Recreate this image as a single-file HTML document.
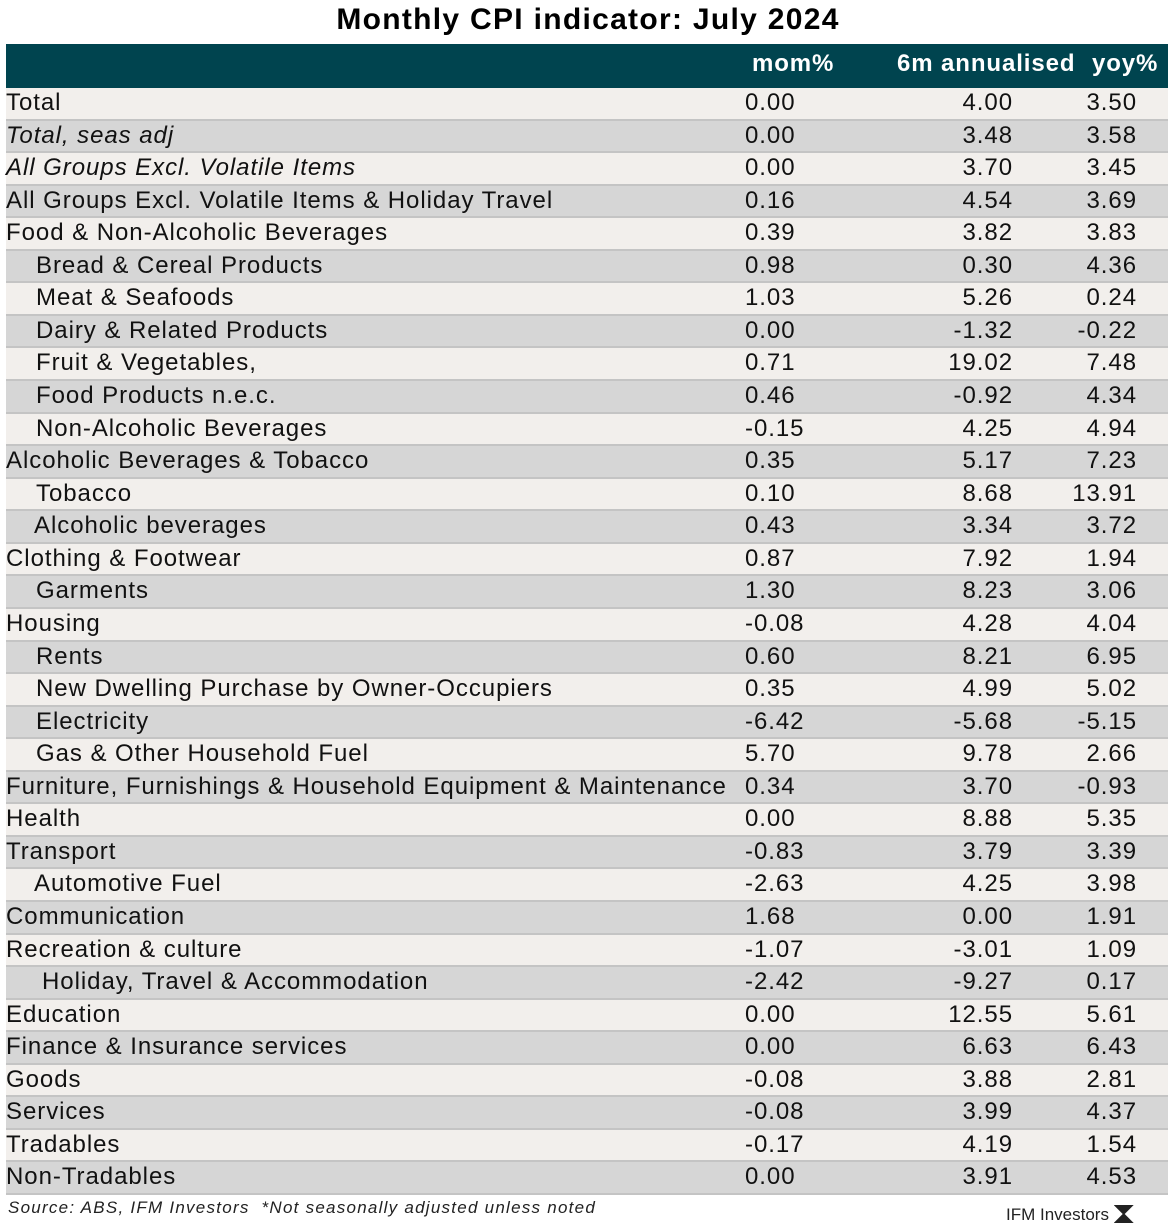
<!DOCTYPE html>
<html><head><meta charset="utf-8"><style>
body{margin:0;width:1172px;height:1229px;background:#fff;font-family:"Liberation Sans",sans-serif;position:relative;overflow:hidden}
#title{position:absolute;top:3px;left:0;width:1176px;text-align:center;font-weight:bold;font-size:30px;letter-spacing:1.3px;color:#000}
#hdr{position:absolute;left:6px;top:44px;width:1162px;height:44px;background:#00444f}
.h{position:absolute;top:50px;color:#fff;font-weight:bold;font-size:24px;letter-spacing:0.9px}
.row{position:absolute;left:6px;width:1162px;border-bottom:2px solid #c4c4c4;box-sizing:border-box}
.c{position:absolute;font-size:24px;color:#111;white-space:nowrap;line-height:30px;letter-spacing:0.95px}
#src{position:absolute;left:8px;top:1198px;font-size:17px;font-style:italic;color:#222;letter-spacing:1.25px}
#logo{position:absolute;left:1006px;top:1205px;font-size:17px;color:#222}
</style></head><body>
<div id="title">Monthly CPI indicator: July 2024</div>
<div id="hdr"></div>
<div class="h" style="left:752px">mom%</div>
<div class="h" style="left:897px">6m annualised</div>
<div class="h" style="left:1092px">yoy%</div>
<div id="rows"></div>
<div id="src">Source: ABS, IFM Investors &nbsp;*Not seasonally adjusted unless noted</div>
<div id="logo">IFM Investors <span style="display:inline-block;width:20px;height:18px;background:#222;vertical-align:-3px;clip-path:polygon(0 0,100% 0,55% 50%,100% 100%,0 100%,45% 50%)"></span></div>
<script>
const labels=["Total","Total, seas adj","All Groups Excl. Volatile Items","All Groups Excl. Volatile Items & Holiday Travel","Food & Non-Alcoholic Beverages","Bread & Cereal Products","Meat & Seafoods","Dairy & Related Products","Fruit & Vegetables,","Food Products n.e.c.","Non-Alcoholic Beverages","Alcoholic Beverages & Tobacco","Tobacco","Alcoholic beverages","Clothing & Footwear","Garments","Housing","Rents","New Dwelling Purchase by Owner-Occupiers","Electricity","Gas & Other Household Fuel","Furniture, Furnishings & Household Equipment & Maintenance","Health","Transport","Automotive Fuel","Communication","Recreation & culture","Holiday, Travel & Accommodation","Education","Finance & Insurance services","Goods","Services","Tradables","Non-Tradables"];
const indent=[0,0,0,0,0,30,30,30,30,30,30,0,30,28,0,30,0,30,30,30,30,0,0,0,28,0,0,36,0,0,0,0,0,0];
const italic=[0,1,1,0,0,0,0,0,0,0,0,0,0,0,0,0,0,0,0,0,0,0,0,0,0,0,0,0,0,0,0,0,0,0];
const mom=["0.00","0.00","0.00","0.16","0.39","0.98","1.03","0.00","0.71","0.46","-0.15","0.35","0.10","0.43","0.87","1.30","-0.08","0.60","0.35","-6.42","5.70","0.34","0.00","-0.83","-2.63","1.68","-1.07","-2.42","0.00","0.00","-0.08","-0.08","-0.17","0.00"];
const ann=["4.00","3.48","3.70","4.54","3.82","0.30","5.26","-1.32","19.02","-0.92","4.25","5.17","8.68","3.34","7.92","8.23","4.28","8.21","4.99","-5.68","9.78","3.70","8.88","3.79","4.25","0.00","-3.01","-9.27","12.55","6.63","3.88","3.99","4.19","3.91"];
const yoy=["3.50","3.58","3.45","3.69","3.83","4.36","0.24","-0.22","7.48","4.34","4.94","7.23","13.91","3.72","1.94","3.06","4.04","6.95","5.02","-5.15","2.66","-0.93","5.35","3.39","3.98","1.91","1.09","0.17","5.61","6.43","2.81","4.37","1.54","4.53"];
const top0=88,rh=32.56,root=document.getElementById('rows');
labels.forEach((l,i)=>{
 const y=top0+i*rh;
 const r=document.createElement('div');r.className='row';
 
 
 r.style.top=y+'px';r.style.height=rh+'px';r.style.background=i%2?'#d6d6d6':'#f2efec';
 root.appendChild(r);
 const mk=(txt,css,name)=>{const d=document.createElement('div');d.className='c';d.textContent=txt;
  
  
  d.style.cssText+=css+';top:'+(y+0)+'px';root.appendChild(d);};
 mk(l,'left:'+(6+indent[i])+'px'+(italic[i]?';font-style:italic':''),'row-label');
 mk(mom[i],'left:745px','mom-value');
 mk(ann[i],'right:'+(1172-1013)+'px','annualised-value');
 mk(yoy[i],'right:'+(1172-1137)+'px','yoy-value');
});
</script>
</body></html>
